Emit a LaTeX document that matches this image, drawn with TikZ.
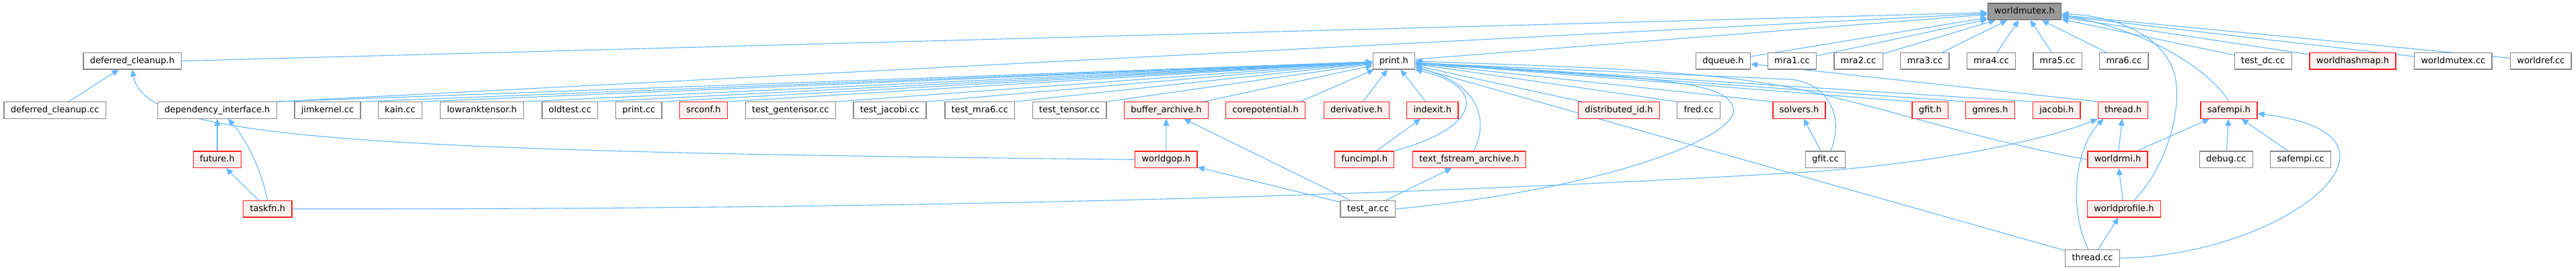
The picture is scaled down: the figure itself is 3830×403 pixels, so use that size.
\documentclass[tikz,border=0pt]{standalone}
\usepackage{fontspec}
\setmainfont{DejaVu Sans}
\usetikzlibrary{arrows.meta}
\definecolor{edgeblue}{HTML}{63B8FF}
\definecolor{boxgray}{HTML}{888888}
\definecolor{boxred}{HTML}{FF2222}
\definecolor{redfill}{HTML}{FFF0F0}
\definecolor{rootfill}{HTML}{999999}
\definecolor{rootdraw}{HTML}{666666}
\pgfdeclarelayer{edges}
\pgfsetlayers{edges,main}
\tikzset{
  file/.style={draw=boxgray,fill=white,line width=1.3pt,minimum height=24.4pt,
    inner xsep=9.8pt,inner ysep=0pt,text height=10pt,text depth=3pt,
    font=\fontsize{13}{15}\selectfont},
  redfile/.style={file,draw=boxred,fill=redfill},
  rootfile/.style={file,draw=rootdraw,fill=rootfill},
  incl/.style={draw=edgeblue,line width=1.1pt,-{Triangle[length=10pt,width=9pt]}}
}
\begin{document}
\begin{tikzpicture}[x=1pt,y=-1pt]
\useasboundingbox (0,0) rectangle (3830,403);
\node[rootfile] (wmutex) at (3010,17.3) {worldmutex.h};
\node[file] (defh) at (196.7,90.7) {deferred\_cleanup.h};
\node[file] (printh) at (2072.4,90.7) {print.h};
\node[file] (dqueue) at (2561.9,90.7) {dqueue.h};
\node[file] (mraA) at (2664.5,90.7) {mra1.cc};
\node[file] (mraB) at (2763,90.7) {mra2.cc};
\node[file] (mraC) at (2861.9,90.7) {mra3.cc};
\node[file] (mraD) at (2960.6,90.7) {mra4.cc};
\node[file] (mraE) at (3059,90.7) {mra5.cc};
\node[file] (mraF) at (3157.8,90.7) {mra6.cc};
\node[file] (testdc) at (3364.7,90.7) {test\_dc.cc};
\node[redfile] (whash) at (3498,90.7) {worldhashmap.h};
\node[file] (wmcc) at (3647.4,90.7) {worldmutex.cc};
\node[file] (wref) at (3777.8,90.7) {worldref.cc};
\node[file] (defcc) at (81.6,164) {deferred\_cleanup.cc};
\node[file] (depint) at (323,164) {dependency\_interface.h};
\node[file] (jimk) at (487,164) {jimkernel.cc};
\node[file] (kain) at (595,164) {kain.cc};
\node[file] (lowrank) at (716.5,164) {lowranktensor.h};
\node[file] (oldtest) at (847.4,164) {oldtest.cc};
\node[file] (printcc) at (949.8,164) {print.cc};
\node[redfile] (srconf) at (1046,164) {srconf.h};
\node[file] (tgent) at (1175.3,164) {test\_gentensor.cc};
\node[file] (tjac) at (1323,164) {test\_jacobi.cc};
\node[file] (tmra) at (1456.8,164) {test\_mra6.cc};
\node[file] (ttens) at (1590,164) {test\_tensor.cc};
\node[redfile] (bufar) at (1734,164) {buffer\_archive.h};
\node[redfile] (corep) at (1881.6,164) {corepotential.h};
\node[redfile] (deriv) at (2016.8,164) {derivative.h};
\node[redfile] (indexit) at (2129.8,164) {indexit.h};
\node[redfile] (distid) at (2407,164) {distributed\_id.h};
\node[file] (fred) at (2525.7,164) {fred.cc};
\node[redfile] (solvers) at (2675,164) {solvers.h};
\node[redfile] (gfith) at (2869.8,164) {gfit.h};
\node[redfile] (gmres) at (2959,164) {gmres.h};
\node[redfile] (jacobi) at (3057.8,164) {jacobi.h};
\node[redfile] (threadh) at (3156.5,164) {thread.h};
\node[redfile] (safempi) at (3314,164) {safempi.h};
\node[redfile] (future) at (323,237.3) {future.h};
\node[redfile] (wgop) at (1733.8,237.3) {worldgop.h};
\node[redfile] (funcimpl) at (2028.6,237.3) {funcimpl.h};
\node[redfile] (tfsa) at (2184.5,237.3) {text\_fstream\_archive.h};
\node[file] (gfitcc) at (2714,237.3) {gfit.cc};
\node[redfile] (wrmi) at (3148.5,237.3) {worldrmi.h};
\node[file] (debugcc) at (3309.8,237.3) {debug.cc};
\node[file] (safecc) at (3420.6,237.3) {safempi.cc};
\node[redfile] (taskfn) at (397.8,310.7) {taskfn.h};
\node[file] (testar) at (2033.9,310.7) {test\_ar.cc};
\node[redfile] (wprof) at (3157.9,310.7) {worldprofile.h};
\node[file] (threadcc) at (3111,384) {thread.cc};
\begin{pgfonlayer}{edges}
\draw[incl] (defh.east) -- (wmutex);
\draw[incl] (depint.north east) -- (wmutex);
\draw[incl] (printh) -- (wmutex);
\draw[incl] (dqueue) -- (wmutex);
\draw[incl] (mraA) -- (wmutex);
\draw[incl] (mraB) -- (wmutex);
\draw[incl] (mraC) -- (wmutex);
\draw[incl] (mraD) -- (wmutex);
\draw[incl] (mraE) -- (wmutex);
\draw[incl] (mraF) -- (wmutex);
\draw[incl] (testdc) -- (wmutex);
\draw[incl] (whash) -- (wmutex);
\draw[incl] (wmcc) -- (wmutex);
\draw[incl] (wref) -- (wmutex);
\draw[incl] (safempi.north) .. controls (3290,110) and (3200,45) .. ([yshift=-6pt]wmutex.east);
\draw[incl] ([xshift=15pt]wprof.north) .. controls (3215,255) and (3240,180) .. (3236,130) .. controls (3234,70) and (3170,25) .. ([yshift=-3pt]wmutex.east);
\draw[incl] (defcc) -- (defh);
\draw[incl] (wgop.west) .. controls (500,225) and (215,205) .. (defh.south);
\draw[incl] (depint.north east) -- (printh);
\draw[incl] (jimk.north east) -- (printh);
\draw[incl] (kain.north east) -- (printh);
\draw[incl] (lowrank.north east) -- (printh);
\draw[incl] (oldtest.north east) -- (printh);
\draw[incl] (printcc.north east) -- (printh);
\draw[incl] (srconf.north east) -- (printh);
\draw[incl] (tgent.north east) -- (printh);
\draw[incl] (tjac.north east) -- (printh);
\draw[incl] (tmra.north east) -- (printh);
\draw[incl] (ttens.north east) -- (printh);
\draw[incl] ([xshift=-8pt]bufar.north east) -- (printh);
\draw[incl] ([xshift=-8pt]corep.north east) -- (printh);
\draw[incl] (deriv) -- (printh);
\draw[incl] (indexit) -- (printh);
\draw[incl] ([xshift=6pt]distid.north west) -- (printh);
\draw[incl] (fred.north west) -- (printh);
\draw[incl] (solvers.north west) -- (printh);
\draw[incl] (gfith.north west) -- (printh);
\draw[incl] (gmres.north west) -- (printh);
\draw[incl] (jacobi.north west) -- (printh);
\draw[incl] (threadcc) -- (printh);
\draw[incl] (funcimpl.north east) .. controls (2200,190) and (2215,130) .. (printh.south east);
\draw[incl] ([xshift=6.5pt]tfsa.north) .. controls (2212,185) and (2205,125) .. ([yshift=3pt]printh.south east);
\draw[incl] ([xshift=8pt]gfitcc.north) .. controls (2745,165) and (2710,121) .. (2660,118) -- ([yshift=-3pt]printh.east);
\draw[incl] (testar.east) .. controls (2400,280) and (2590,200) .. (2577,160) .. controls (2565,125) and (2500,115) .. ([yshift=-5pt]printh.east);
\draw[incl] (wrmi.west) .. controls (2900,200) and (2750,140) .. (2600,120) .. controls (2450,100) and (2250,97) .. (printh.east);
\draw[incl] (threadh.north west) -- (dqueue);
\draw[incl] (future) -- (depint);
\draw[incl] (taskfn.north) .. controls (388,250) and (365,205) .. ([xshift=16pt]depint.south);
\draw[incl] (taskfn) -- (future);
\draw[incl] (taskfn.east) .. controls (1500,312) and (2200,285) .. (2700,255) .. controls (2900,240) and (3050,205) .. (threadh.south west);
\draw[incl] (wgop) -- (bufar);
\draw[incl] (testar) -- (wgop);
\draw[incl] (testar) -- (bufar);
\draw[incl] (testar) -- (tfsa);
\draw[incl] (funcimpl) -- (indexit);
\draw[incl] (gfitcc) -- (solvers);
\draw[incl] (wrmi) -- (threadh);
\draw[incl] (wrmi) -- (safempi);
\draw[incl] (wprof) -- (wrmi);
\draw[incl] ([xshift=-6pt]threadcc.north) .. controls (3075,310) and (3085,220) .. ([xshift=-29pt]threadh.south);
\draw[incl] (threadcc) -- (wprof);
\draw[incl] (threadcc.east) .. controls (3400,380) and (3620,200) .. ([yshift=-5pt]safempi.east);
\draw[incl] (debugcc) -- (safempi);
\draw[incl] (safecc) -- (safempi);
\end{pgfonlayer}
\end{tikzpicture}
\end{document}
